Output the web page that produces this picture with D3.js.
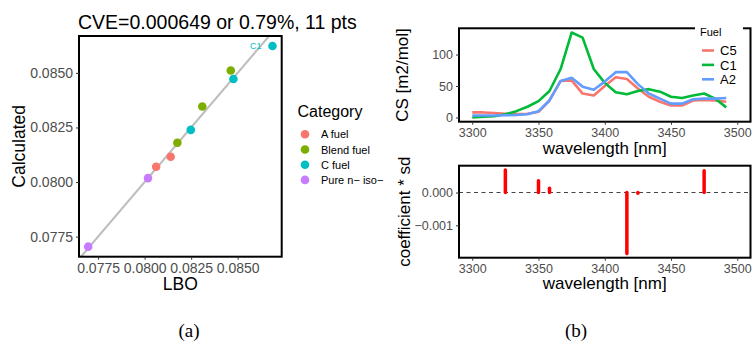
<!DOCTYPE html>
<html><head><meta charset="utf-8">
<script src="https://cdn.jsdelivr.net/npm/d3@7"></script>
<style>
body{margin:0;background:#fff;}
svg{display:block;font-family:"Liberation Sans",Arial,Helvetica,sans-serif;}
</style></head><body>
<svg id="fig" width="753" height="347"></svg>
<script>
// ---------- panel (a): measured vs calculated LBO ----------
const categories = ["A fuel", "Blend fuel", "C fuel", "Pure n\u2212 iso\u2212"];
const categoryColors = ["#F8766D", "#7CAE00", "#00BFC4", "#C77CFF"];
const lbo        = [0.07697, 0.08018, 0.08062, 0.08140, 0.08176, 0.08248, 0.08310, 0.08463, 0.08477, 0.08687];
const calculated = [0.07704, 0.08018, 0.08070, 0.08116, 0.08180, 0.08239, 0.08346, 0.08511, 0.08472, 0.08623];
const pointCategory = ["Pure n\u2212 iso\u2212", "Pure n\u2212 iso\u2212", "A fuel", "A fuel", "Blend fuel",
                       "C fuel", "Blend fuel", "Blend fuel", "C fuel", "C fuel"];
const pointLabel = ["", "", "", "", "", "", "", "", "", "C1"];
const lboTicks  = [0.0775, 0.0800, 0.0825, 0.0850];
const calcTicks = [0.0775, 0.0800, 0.0825, 0.0850];
const titleText = "CVE=0.000649 or 0.79%, 11 pts";

// ---------- panel (b): cross-section spectra and model coefficients ----------
const wavelengths = [3300.0, 3308.3, 3316.7, 3325.0, 3333.3, 3341.7, 3350.0, 3358.3, 3366.7, 3375.0, 3383.3, 3391.7,
                     3400.0, 3408.3, 3416.7, 3425.0, 3433.3, 3441.7, 3450.0, 3458.3, 3466.7, 3475.0, 3483.3, 3491.7];
const fuels = ["C5", "C1", "A2"];
const fuelColors = ["#F8766D", "#00BA38", "#619CFF"];
const csC5 = [8, 8, 7, 6, 5.5, 6, 9, 27, 58, 59, 38, 35, 50, 64, 61, 46, 33, 25, 19, 19, 27, 28, 27, 25];
const csC1 = [0, 1, 2, 5, 10, 17, 26, 42, 77, 135, 127, 77, 55, 40, 37, 42, 45, 41, 33, 31, 35, 38, 30, 16];
const csA2 = [3, 3, 3, 3.5, 4, 5, 10, 27, 58, 63, 49, 44, 57, 72, 72, 53, 38, 30, 22, 22, 29, 30, 30, 31];
const coefWavelengths = [3325.0, 3350.0, 3358.3, 3416.7, 3425.0, 3475.0];
const coefValues      = [0.00069, 0.00036, 0.00013, -0.00186, -0.00002, 0.00066];
const waveLimits = [3300, 3500];
const waveTicks  = [3300, 3350, 3400, 3450, 3500];
const csTicks    = [0, 50, 100];
const coefTicks  = [-0.001, 0.000];

// ---------- helpers ----------
const svg = d3.select("#fig");
const TICK_GREY = "#4D4D4D";
const expand = ([lo, hi], f = 0.05) => { const d = (hi - lo) * f; return [lo - d, hi + d]; };

function frame(g, x0, y0, x1, y1) {
  g.append("rect").attr("x", x0).attr("y", y0).attr("width", x1 - x0).attr("height", y1 - y0)
    .attr("fill", "none").attr("stroke", "#000").attr("stroke-width", 2);
}
function styleAxis(sel, size) {
  sel.select(".domain").remove();
  sel.selectAll(".tick line").attr("stroke", "#333").attr("stroke-width", 1);
  sel.selectAll(".tick text").attr("fill", TICK_GREY).attr("font-size", size)
    .attr("font-family", "Liberation Sans, Arial, sans-serif");
}

// ================= panel (a) =================
(function () {
  const L = 79, R = 281.7, T = 36, B = 256.7;
  const x = d3.scaleLinear().domain(expand(d3.extent(lbo))).range([L, R]);
  const y = d3.scaleLinear().domain(expand(d3.extent(calculated))).range([B, T]);
  const color = d3.scaleOrdinal().domain(categories).range(categoryColors);
  const g = svg.append("g");

  g.append("defs").append("clipPath").attr("id", "clipA")
    .append("rect").attr("x", L).attr("y", T).attr("width", R - L).attr("height", B - T);

  // identity reference line
  const lo = Math.min(x.domain()[0], y.domain()[0]), hi = Math.max(x.domain()[1], y.domain()[1]);
  g.append("line").attr("clip-path", "url(#clipA)")
    .attr("x1", x(lo)).attr("y1", y(lo)).attr("x2", x(hi)).attr("y2", y(hi))
    .attr("stroke", "#BEBEBE").attr("stroke-width", 2.1);

  g.selectAll("circle.pt").data(lbo).join("circle").attr("class", "pt")
    .attr("cx", (d) => x(d)).attr("cy", (d, i) => y(calculated[i])).attr("r", 4.3)
    .attr("fill", (d, i) => color(pointCategory[i]));

  g.selectAll("text.plab").data(lbo.filter((d, i) => pointLabel[i])).join("text").attr("class", "plab")
    .attr("x", (d) => x(d) - 11).attr("y", (d) => y(calculated[lbo.indexOf(d)]) + 3)
    .attr("text-anchor", "end").attr("font-size", 9)
    .attr("fill", (d) => color(pointCategory[lbo.indexOf(d)]))
    .text((d) => pointLabel[lbo.indexOf(d)]);

  frame(g, L, T, R, B);

  const ax = g.append("g").attr("transform", `translate(0,${B})`)
    .call(d3.axisBottom(x).tickValues(lboTicks).tickFormat(d3.format(".4f")).tickSize(3).tickPadding(3));
  styleAxis(ax, 14);
  const ay = g.append("g").attr("transform", `translate(${L},0)`)
    .call(d3.axisLeft(y).tickValues(calcTicks).tickFormat(d3.format(".4f")).tickSize(3).tickPadding(3));
  styleAxis(ay, 14);

  g.append("text").attr("x", 78).attr("y", 28.5).attr("font-size", 19.5).attr("fill", "#000").text(titleText);
  g.append("text").attr("x", (L + R) / 2).attr("y", 289.5).attr("text-anchor", "middle")
    .attr("font-size", 17.5).text("LBO");
  g.append("text").attr("transform", `translate(25,${(T + B) / 2}) rotate(-90)`)
    .attr("text-anchor", "middle").attr("font-size", 17.5).text("Calculated");

  // legend
  const lg = g.append("g");
  lg.append("text").attr("x", 297.5).attr("y", 116.7).attr("font-size", 16).text("Category");
  categories.forEach((c, i) => {
    const cy = 134.3 + i * 15.2;
    lg.append("circle").attr("cx", 305).attr("cy", cy).attr("r", 4.3).attr("fill", color(c));
    lg.append("text").attr("x", 321).attr("y", cy + 4).attr("font-size", 11).text(c);
  });

  svg.append("text").attr("x", 189).attr("y", 337).attr("text-anchor", "middle")
    .attr("font-family", "Liberation Serif, DejaVu Serif, serif").attr("font-size", 19).text("(a)");
})();

// ================= panel (b) =================
(function () {
  const L = 459, R = 750.5;
  const x = d3.scaleLinear().domain(expand(waveLimits)).range([L, R]);
  const g = svg.append("g");

  // ---- top: spectra ----
  const T1 = 28.3, B1 = 121.7;
  const series = [csC5, csC1, csA2];
  const y1 = d3.scaleLinear().domain(expand([d3.min(series.flat()), d3.max(series.flat())])).range([B1, T1]);
  const line = d3.line().x((d, i) => x(wavelengths[i])).y((d) => y1(d));
  series.forEach((s, k) => {
    g.append("path").datum(s).attr("d", line).attr("fill", "none")
      .attr("stroke", fuelColors[k]).attr("stroke-width", 2.6).attr("stroke-linejoin", "round");
  });
  frame(g, L, T1, R, B1);
  const ax1 = g.append("g").attr("transform", `translate(0,${B1})`)
    .call(d3.axisBottom(x).tickValues(waveTicks).tickFormat(d3.format("d")).tickSize(3).tickPadding(3));
  styleAxis(ax1, 12.5);
  const ay1 = g.append("g").attr("transform", `translate(${L},0)`)
    .call(d3.axisLeft(y1).tickValues(csTicks).tickSize(3).tickPadding(3));
  styleAxis(ay1, 12.5);
  g.append("text").attr("x", (L + R) / 2).attr("y", 154).attr("text-anchor", "middle")
    .attr("font-size", 17).text("wavelength [nm]");
  g.append("text").attr("transform", `translate(408,${(T1 + B1) / 2}) rotate(-90)`)
    .attr("text-anchor", "middle").attr("font-size", 17).text("CS [m2/mol]");

  // legend box inside the top-right corner
  const lg = g.append("g");
  lg.append("rect").attr("x", 695).attr("y", 22).attr("width", 48).attr("height", 66).attr("fill", "#fff");
  lg.append("text").attr("x", 700).attr("y", 35.5).attr("font-size", 11).text("Fuel");
  fuels.forEach((f, i) => {
    const cy = 50.5 + i * 14.4;
    lg.append("line").attr("x1", 702).attr("x2", 714).attr("y1", cy).attr("y2", cy)
      .attr("stroke", fuelColors[i]).attr("stroke-width", 2.6);
    lg.append("text").attr("x", 720).attr("y", cy + 4.6).attr("font-size", 13).text(f);
  });

  // ---- bottom: coefficient * sd ----
  const T2 = 165.7, B2 = 257.7;
  const y2 = d3.scaleLinear().domain(expand([Math.min(0, d3.min(coefValues)), Math.max(0, d3.max(coefValues))]))
    .range([B2, T2]);
  g.append("line").attr("x1", L).attr("x2", R).attr("y1", y2(0)).attr("y2", y2(0))
    .attr("stroke", "#444").attr("stroke-width", 1).attr("stroke-dasharray", "4,3.5");
  g.selectAll("line.coef").data(coefValues).join("line").attr("class", "coef")
    .attr("x1", (d, i) => x(coefWavelengths[i])).attr("x2", (d, i) => x(coefWavelengths[i]))
    .attr("y1", y2(0)).attr("y2", (d) => y2(d))
    .attr("stroke", "#FF0000").attr("stroke-width", 3.5).attr("stroke-linecap", "round");
  frame(g, L, T2, R, B2);
  const ax2 = g.append("g").attr("transform", `translate(0,${B2})`)
    .call(d3.axisBottom(x).tickValues(waveTicks).tickFormat(d3.format("d")).tickSize(3).tickPadding(3));
  styleAxis(ax2, 12.5);
  const ay2 = g.append("g").attr("transform", `translate(${L},0)`)
    .call(d3.axisLeft(y2).tickValues(coefTicks).tickFormat((d) => d3.format(".3f")(d).replace("-", "\u2212"))
      .tickSize(3).tickPadding(3));
  styleAxis(ay2, 12.5);
  g.append("text").attr("x", (L + R) / 2).attr("y", 289.3).attr("text-anchor", "middle")
    .attr("font-size", 17).text("wavelength [nm]");
  g.append("text").attr("transform", `translate(410,${(T2 + B2) / 2}) rotate(-90)`)
    .attr("text-anchor", "middle").attr("font-size", 17).text("coefficient * sd");

  svg.append("text").attr("x", 576).attr("y", 337).attr("text-anchor", "middle")
    .attr("font-family", "Liberation Serif, DejaVu Serif, serif").attr("font-size", 19).text("(b)");
})();
</script>
</body></html>
